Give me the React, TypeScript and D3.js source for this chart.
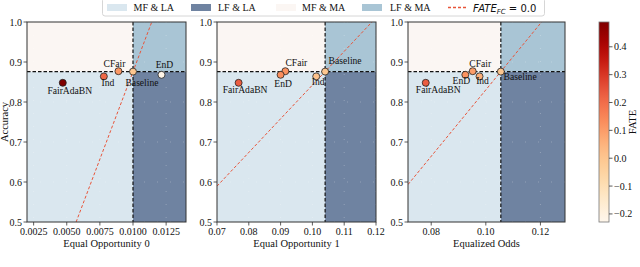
import React from "react";
import * as d3 from "d3";

// methods and readings (same order in every array)
const methods = ["Baseline", "CFair", "EnD", "FairAdaBN", "Ind"];
const accuracy = [0.876, 0.877, 0.868, 0.848, 0.864];
const equalOpp0 = [0.01, 0.0089, 0.01215, 0.0047, 0.0078];
const equalOpp1 = [0.104, 0.0915, 0.09, 0.0768, 0.1012];
const equalOdds = [0.1055, 0.0952, 0.0925, 0.078, 0.0977];
const fateOpp0 = [0.0, 0.11, -0.22, 0.49, 0.21];
const fateOpp1 = [0.0, 0.12, 0.13, 0.23, 0.01];
const fateOdds = [0.0, 0.1, 0.12, 0.23, 0.06];

const yTicks = [0.5, 0.6, 0.7, 0.8, 0.9, 1.0];
const xTicks0 = [0.0025, 0.005, 0.0075, 0.01, 0.0125];
const xTicks1 = [0.07, 0.08, 0.09, 0.1, 0.11, 0.12];
const xTicksOdds = [0.08, 0.1, 0.12];
const fateTicks = [-0.2, -0.1, 0.0, 0.1, 0.2, 0.3, 0.4];
const fateDomain = [-0.229, 0.489];

const legendItems = ["MF & LA", "LF & LA", "MF & MA", "LF & MA"];
const regionColors = ["#dae7ef", "#6f83a1", "#fbf6f3", "#a9c5d5"];

// label offsets [dx, dy] relative to each point, per panel
const labelOff0 = [[9, 14], [-4, -4.5], [3, -6.5], [7, 11.3], [4, 10]];
const labelOff1 = [[20, -7.7], [11, -5], [2.5, 12.4], [6.5, 10.6], [2, 8.5]];
const labelOffOdds = [[19.3, 8.3], [7.5, -4], [-4, 9], [12.5, 10.5], [3, 7.6]];

const serif = "'Liberation Serif', 'Times New Roman', serif";
const top = 22;
const bottom = 222;

const colorScale = d3.scaleSequential(d3.interpolateOrRd).domain(fateDomain);

type PanelProps = {
  x0: number;
  x1: number;
  domain: [number, number];
  xs: number[];
  fate: number[];
  ticks: number[];
  fmt: string;
  label: string;
  offsets: number[][];
  showYLabel?: boolean;
};

const Panel = ({ x0, x1, domain, xs, fate, ticks, fmt, label, offsets, showYLabel }: PanelProps) => {
  const x = d3.scaleLinear().domain(domain).range([x0, x1]);
  const y = d3.scaleLinear().domain([0.5, 1.0]).range([bottom, top]);
  const bx = xs[0];
  const by = accuracy[0];
  const px = x(bx);
  const py = y(by);
  const f = d3.format(fmt);

  // FATE_FC = 0 line: acc / acc0 == fair / fair0
  const lineX = (a: number) => (a / by) * bx;
  let la = 0.5, lb = 1.0;
  let xa = lineX(la), xb = lineX(lb);
  if (xa < domain[0]) { xa = domain[0]; la = (xa / bx) * by; }
  if (xb > domain[1]) { xb = domain[1]; lb = (xb / bx) * by; }

  return (
    <g>
      <defs>
        <clipPath id={`clip${x0}`}>
          <rect x={x0} y={top} width={x1 - x0} height={bottom - top} />
        </clipPath>
      </defs>
      <g clipPath={`url(#clip${x0})`}>
        <rect x={x0} y={py} width={px - x0} height={bottom - py} fill={regionColors[0]} />
        <rect x={px} y={py} width={x1 - px} height={bottom - py} fill={regionColors[1]} />
        <rect x={x0} y={top} width={px - x0} height={py - top} fill={regionColors[2]} />
        <rect x={px} y={top} width={x1 - px} height={py - top} fill={regionColors[3]} />
        {ticks.map((t) => (
          <line key={"gx" + t} x1={x(t)} x2={x(t)} y1={top} y2={bottom}
            stroke="#fff" strokeOpacity={0.25} strokeDasharray="1,12" strokeWidth={1} />
        ))}
        {yTicks.map((t) => (
          <line key={"gy" + t} x1={x0} x2={x1} y1={y(t)} y2={y(t)}
            stroke="#fff" strokeOpacity={0.25} strokeDasharray="1,12" strokeWidth={1} />
        ))}
        <line x1={x0} x2={x1} y1={py} y2={py} stroke="#111" strokeWidth={1.2} strokeDasharray="3.5,2" />
        <line x1={px} x2={px} y1={top} y2={bottom} stroke="#111" strokeWidth={1.2} strokeDasharray="3.5,2" />
        <line x1={x(xa)} y1={y(la)} x2={x(xb)} y2={y(lb)} stroke="#e8553a" strokeWidth={1} strokeDasharray="3,2" />
      </g>
      {xs.map((v, i) => (
        <circle key={methods[i]} cx={x(v)} cy={y(accuracy[i])} r={3.5}
          fill={colorScale(fate[i])} stroke="#222" strokeWidth={0.8} />
      ))}
      {xs.map((v, i) => (
        <text key={"l" + methods[i]} x={x(v) + offsets[i][0]} y={y(accuracy[i]) + offsets[i][1]}
          textAnchor="middle" fontSize={9.6} fontFamily={serif} fill="#111">{methods[i]}</text>
      ))}
      <rect x={x0} y={top} width={x1 - x0} height={bottom - top} fill="none" stroke="#333" strokeWidth={1} />
      {ticks.map((t) => (
        <g key={"tx" + t}>
          <line x1={x(t)} x2={x(t)} y1={bottom} y2={bottom + 3.5} stroke="#333" strokeWidth={0.8} />
          <text x={x(t)} y={bottom + 12.5} textAnchor="middle" fontSize={10} fontFamily={serif} fill="#111">{f(t)}</text>
        </g>
      ))}
      {yTicks.map((t) => (
        <g key={"ty" + t}>
          <line x1={x0 - 3.5} x2={x0} y1={y(t)} y2={y(t)} stroke="#333" strokeWidth={0.8} />
          <text x={x0 - 5} y={y(t) + 3.5} textAnchor="end" fontSize={10} fontFamily={serif} fill="#111">{t.toFixed(1)}</text>
        </g>
      ))}
      <text x={(x0 + x1) / 2} y={bottom + 24.5} textAnchor="middle" fontSize={10.5} fontFamily={serif} fill="#111">{label}</text>
      {showYLabel && (
        <text transform={`translate(8,${(top + bottom) / 2}) rotate(-90)`} textAnchor="middle"
          fontSize={10.5} fontFamily={serif} fill="#111">Accuracy</text>
      )}
    </g>
  );
};

const Legend = () => {
  const patchX = [107, 191, 276, 362];
  const textX = [133.5, 218, 302, 390];
  return (
    <g>
      <rect x={102.5} y={-2} width={442} height={18} rx={2.5} fill="#fff" stroke="#ccc" strokeWidth={0.8} />
      {legendItems.map((d, i) => (
        <g key={d}>
          <rect x={patchX[i]} y={4} width={20} height={7} fill={regionColors[i]} />
          <text x={textX[i]} y={11} fontSize={10} fontFamily={serif} fill="#111">{d}</text>
        </g>
      ))}
      <line x1={448} x2={467} y1={7.5} y2={7.5} stroke="#e8553a" strokeWidth={1.3} strokeDasharray="3,2" />
      <text x={473} y={11.5} fontSize={10} fontFamily="'DejaVu Sans', sans-serif" fill="#111">
        <tspan fontStyle="italic">FATE</tspan>
        <tspan fontStyle="italic" fontSize={7} dy={2}>FC</tspan>
        <tspan dy={-2}> = 0.0</tspan>
      </text>
    </g>
  );
};

const ColorBar = () => {
  const cx0 = 599;
  const cw = 10;
  const s = d3.scaleLinear().domain(fateDomain).range([bottom, top]);
  const stops = d3.range(0, 1.0001, 0.05);
  return (
    <g>
      <defs>
        <linearGradient id="fateGrad" x1="0" y1="1" x2="0" y2="0">
          {stops.map((t) => (
            <stop key={t} offset={t} stopColor={d3.interpolateOrRd(t)} />
          ))}
        </linearGradient>
      </defs>
      <rect x={cx0} y={top} width={cw} height={bottom - top} fill="url(#fateGrad)" stroke="#777" strokeWidth={0.8} />
      {fateTicks.map((t) => (
        <g key={t}>
          <line x1={cx0 + cw} x2={cx0 + cw + 3.5} y1={s(t)} y2={s(t)} stroke="#333" strokeWidth={0.8} />
          <text x={cx0 + cw + 5} y={s(t) + 3.5} fontSize={10} fontFamily={serif} fill="#111">
            {t < 0 ? "\u2212" + Math.abs(t).toFixed(1) : t.toFixed(1)}
          </text>
        </g>
      ))}
      <text transform={`translate(636,${(top + bottom) / 2}) rotate(-90)`} textAnchor="middle"
        fontSize={10.5} fontFamily={serif} fill="#111">FATE</text>
    </g>
  );
};

export default function App() {
  return (
    <div style={{ position: "absolute", left: 0, top: 0 }}>
      <svg width={640} height={267} style={{ display: "block", background: "#fff" }}>
        <Panel x0={27} x1={186} domain={[0.002, 0.014]} xs={equalOpp0} fate={fateOpp0}
          ticks={xTicks0} fmt=".4f" label="Equal Opportunity 0" offsets={labelOff0} showYLabel />
        <Panel x0={217} x1={376} domain={[0.07, 0.12]} xs={equalOpp1} fate={fateOpp1}
          ticks={xTicks1} fmt=".2f" label="Equal Opportunity 1" offsets={labelOff1} />
        <Panel x0={408} x1={565} domain={[0.0715, 0.129]} xs={equalOdds} fate={fateOdds}
          ticks={xTicksOdds} fmt=".2f" label="Equalized Odds" offsets={labelOffOdds} />
        <ColorBar />
        <Legend />
      </svg>
    </div>
  );
}
